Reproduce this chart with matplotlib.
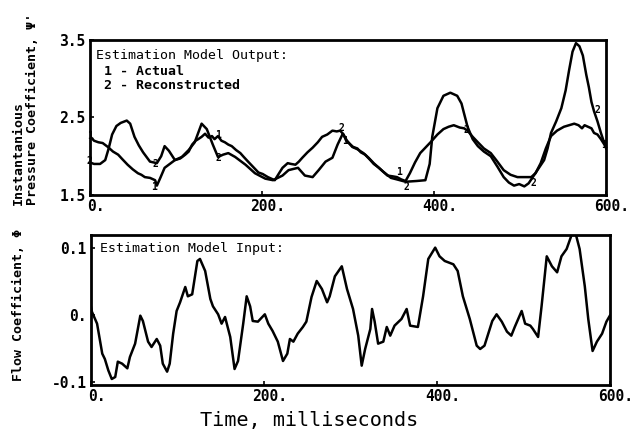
import numpy as np
import matplotlib
matplotlib.use("Agg")
import matplotlib.pyplot as plt
import matplotlib.transforms as mtransforms

# pressure coefficient, curve 1 (actual)
t_act = [0, 5, 10, 15, 21, 27, 33, 38, 44, 50, 56, 60, 64, 70, 76, 78, 82, 87, 93, 99,
         105, 111, 115, 119, 123, 126, 130, 134, 138, 142, 145, 149, 153, 157, 161, 165,
         170, 175, 179, 184, 190, 196, 201, 207, 211, 215, 220, 224, 227, 230, 234, 239,
         243, 247, 253, 259, 265, 270, 276, 282, 287, 291, 295, 298, 302, 306, 311, 315,
         320, 326, 330, 336, 341, 346, 352, 357, 362, 367, 372, 378, 384, 390, 396, 404,
         411, 417, 423, 430, 435, 439, 445, 451, 458, 466, 473, 481, 489, 497, 505, 513,
         518, 524, 530, 536, 543, 551, 557, 563, 568, 572, 575, 579, 583, 586, 590, 594,
         598, 600]
p_act = [2.26, 2.2, 2.18, 2.17, 2.12, 2.06, 2.02, 1.96, 1.89, 1.83, 1.78, 1.76, 1.73,
         1.72, 1.69, 1.62, 1.72, 1.85, 1.9, 1.95, 1.97, 2.02, 2.06, 2.15, 2.2, 2.22, 2.25,
         2.29, 2.24, 2.26, 2.22, 2.26, 2.2, 2.18, 2.15, 2.13, 2.08, 2.04, 1.99, 1.93, 1.86,
         1.79, 1.77, 1.73, 1.71, 1.69, 1.78, 1.85, 1.88, 1.91, 1.9, 1.89, 1.93, 1.98, 2.05,
         2.11, 2.18, 2.25, 2.28, 2.33, 2.32, 2.33, 2.28, 2.2, 2.16, 2.12, 2.1, 2.05, 2.02,
         1.95, 1.9, 1.85, 1.8, 1.75, 1.74, 1.73, 1.7, 1.68, 1.78, 1.92, 2.04, 2.11, 2.18,
         2.28, 2.35, 2.38, 2.4, 2.37, 2.36, 2.33, 2.25, 2.18, 2.1, 2.04, 1.94, 1.82, 1.76,
         1.73, 1.73, 1.73, 1.78, 1.91, 2.1, 2.26, 2.33, 2.38, 2.4, 2.42, 2.4, 2.36, 2.4,
         2.38, 2.36, 2.3, 2.28, 2.22, 2.15, 2.12]

# pressure coefficient, curve 2 (reconstructed)
t_rec = [0, 5, 12, 18, 22, 26, 31, 36, 43, 47, 52, 57, 62, 70, 78, 83, 87, 92, 99, 107,
         115, 122, 127, 130, 136, 143, 149, 155, 161, 169, 181, 192, 204, 213, 224, 231,
         242, 250, 259, 266, 274, 282, 288, 294, 299, 305, 311, 318, 324, 330, 341, 350,
         357, 367, 380, 390, 395, 398, 404, 411, 419, 427, 432, 435, 439, 445, 451, 458,
         466, 474, 481, 487, 493, 499, 505, 510, 516, 522, 528, 532, 536, 542, 548, 553,
         557, 561, 565, 569, 573, 577, 580, 583, 586, 590, 594, 600]
p_rec = [1.92, 1.9, 1.9, 1.95, 2.1, 2.28, 2.39, 2.43, 2.46, 2.42, 2.25, 2.14, 2.05, 1.93,
         1.91, 2.0, 2.13, 2.07, 1.95, 1.99, 2.08, 2.18, 2.33, 2.42, 2.35, 2.15, 1.99, 2.02,
         2.04, 1.99, 1.89, 1.78, 1.71, 1.69, 1.75, 1.82, 1.85, 1.75, 1.73, 1.82, 1.93, 1.98,
         2.15, 2.29, 2.2, 2.12, 2.09, 2.04, 1.98, 1.91, 1.8, 1.72, 1.7, 1.67, 1.68, 1.69,
         1.9, 2.25, 2.62, 2.78, 2.82, 2.78, 2.68, 2.55, 2.38, 2.22, 2.13, 2.06, 2.0, 1.86,
         1.73, 1.66, 1.62, 1.64, 1.61, 1.65, 1.75, 1.85, 1.95, 2.1, 2.3, 2.45, 2.62, 2.85,
         3.11, 3.35, 3.46, 3.42, 3.3, 3.05, 2.89, 2.7, 2.58, 2.45, 2.3, 2.1]

# flow coefficient (model input)
t_flow = [0, 1, 7, 13, 16, 20, 24, 28, 31, 36, 42, 45, 51, 57, 60, 66, 70, 76, 80, 83,
          88, 91, 95, 99, 103, 109, 112, 117, 123, 126, 132, 138, 141, 147, 151, 155, 161,
          166, 170, 176, 180, 184, 187, 193, 201, 205, 210, 216, 222, 227, 230, 234, 239,
          245, 249, 255, 261, 267, 273, 276, 282, 290, 296, 303, 309, 313, 317, 323, 325,
          328, 332, 338, 342, 346, 351, 359, 365, 369, 378, 384, 390, 398, 403, 409, 419,
          424, 430, 438, 446, 450, 455, 464, 469, 475, 481, 486, 490, 498, 502, 508, 511,
          517, 521, 527, 533, 539, 544, 550, 556, 560, 565, 571, 575, 580, 585, 591, 596, 600]
phi = [0.012, 0.005, -0.013, -0.058, -0.066, -0.083, -0.096, -0.093, -0.07, -0.073,
       -0.08, -0.063, -0.043, -0.001, -0.009, -0.04, -0.048, -0.036, -0.046, -0.073,
       -0.085, -0.073, -0.028, 0.006, 0.019, 0.042, 0.028, 0.031, 0.081, 0.084, 0.066,
       0.024, 0.013, 0.001, -0.013, -0.003, -0.033, -0.081, -0.069, -0.013, 0.028, 0.013,
       -0.009, -0.01, 0.001, -0.013, -0.024, -0.04, -0.069, -0.058, -0.036, -0.04, -0.028,
       -0.018, -0.01, 0.027, 0.051, 0.039, 0.019, 0.028, 0.058, 0.073, 0.039, 0.009,
       -0.031, -0.076, -0.051, -0.021, 0.009, -0.01, -0.043, -0.04, -0.018, -0.031, -0.016,
       -0.006, 0.009, -0.016, -0.018, 0.028, 0.084, 0.101, 0.088, 0.081, 0.076, 0.066,
       0.028, -0.006, -0.046, -0.051, -0.046, -0.009, 0.001, -0.01, -0.025, -0.031, -0.018,
       0.006, -0.013, -0.016, -0.021, -0.033, 0.013, 0.088, 0.073, 0.064, 0.088, 0.099,
       0.121, 0.124, 0.099, 0.043, -0.006, -0.054, -0.04, -0.028, -0.01, -0.001]

# curve numbers written along the traces: (time, value, text)
curve_tags = [(0, 2.26, '1'), (0, 1.94, '2'), (76, 1.9, '2'), (75, 1.6, '1'),
              (149, 2.28, '1'), (149, 1.98, '2'), (293, 2.36, '2'), (297, 2.2, '1'),
              (360, 1.8, '1'), (368, 1.6, '2'), (438, 2.34, '2'), (515, 1.66, '2'),
              (590, 2.6, '2'), (598, 2.15, '1')]

xticks = [0, 200, 400, 600]
xticklabels = ['0.', '200.', '400.', '600.']

mono = 'DejaVu Sans Mono'
plt.rcParams['font.family'] = mono

fig = plt.figure(figsize=(6.32, 4.40), dpi=100)
ax1 = fig.add_axes([0.142, 0.557, 0.817, 0.352])
ax2 = fig.add_axes([0.144, 0.125, 0.821, 0.341])

# tick numbers sit a little right of their ticks
shift = mtransforms.ScaledTranslation(6 / 100, 0, fig.dpi_scale_trans)

for ax in (ax1, ax2):
    for s in ax.spines.values():
        s.set_linewidth(2.0)
    ax.set_xlim(0, 600)
    ax.set_xticks(xticks)
    ax.set_xticklabels(xticklabels, fontsize=10.5, fontweight='bold')
    ax.tick_params(direction='in', length=3, width=1.2, pad=3)
    for lbl in ax.get_xticklabels():
        lbl.set_horizontalalignment('center')
        lbl.set_transform(lbl.get_transform() + shift)

ax1.plot(t_act, p_act, color='black', lw=1.8)
ax1.plot(t_rec, p_rec, color='black', lw=1.8)
for tx, ty, s in curve_tags:
    ax1.text(tx, ty, s, fontsize=7, fontweight='bold', ha='center', va='center')
ax1.set_ylim(1.5, 3.5)
ax1.set_yticks([1.5, 2.5, 3.5])
ax1.set_yticklabels(['1.5', '2.5', '3.5'], fontsize=10.5, fontweight='bold')
ax1.text(0.013, 0.94, 'Estimation Model Output:', transform=ax1.transAxes,
         fontsize=9.5, va='top', ha='left')
ax1.text(0.013, 0.84, ' 1 - Actual\n 2 - Reconstructed', transform=ax1.transAxes,
         fontsize=9.5, fontweight='bold', va='top', ha='left', linespacing=1.15)

fig.text(0.04, 0.534, "Instantanious\nPressure Coefficient, \u03a8'", rotation=90,
         fontsize=9.5, fontweight='bold', ha='center', va='bottom',
         multialignment='left', linespacing=1.05)

ax2.plot(t_flow, phi, color='black', lw=1.8)
ax2.set_ylim(-0.105, 0.12)
ax2.set_yticks([-0.1, 0.0, 0.1])
ax2.set_yticklabels(['-0.1', '0.', '0.1'], fontsize=10.5, fontweight='bold')
ax2.text(0.018, 0.955, 'Estimation Model Input:', transform=ax2.transAxes,
         fontsize=9.5, va='top', ha='left')

fig.text(0.03, 0.307, 'Flow Coefficient, \u03a6', rotation=90, fontsize=9.5,
         fontweight='bold', ha='center', va='center')
fig.text(0.489, 0.045, 'Time, milliseconds', fontsize=14.5, ha='center', va='center')

fig.savefig('out.png', dpi=100)
